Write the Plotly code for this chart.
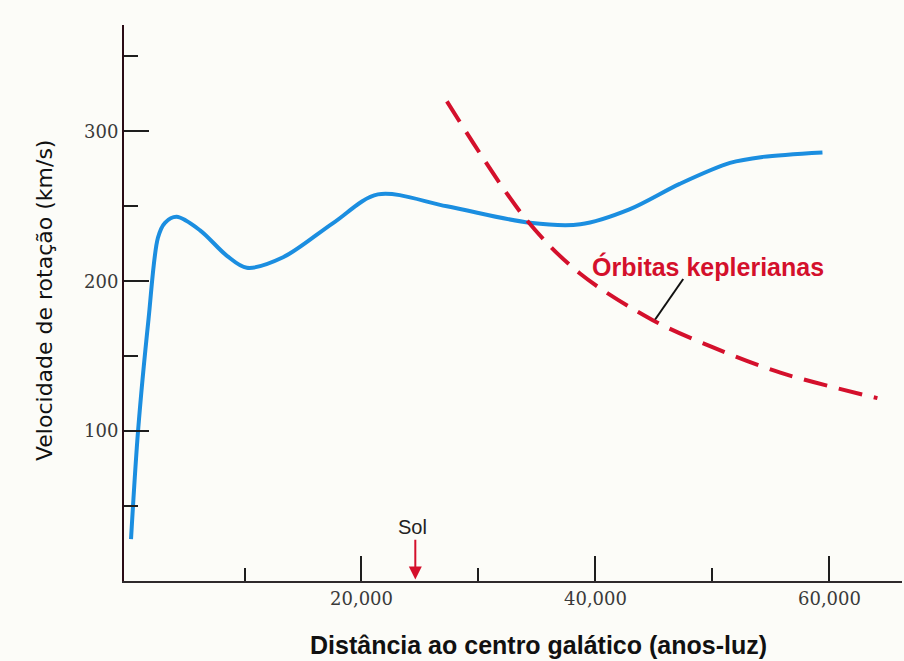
import plotly.graph_objects as go

# Observed rotation curve of the Galaxy (distance in light-years, speed in km/s)
dist_obs = [300, 900, 1800, 2600, 3200, 4200, 6200, 8500, 10200, 13300,
            17600, 21400, 27300, 34400, 38700, 42900, 47200, 51500, 54300, 59400]
vel_obs = [28, 100, 175, 229, 239, 243, 234, 217, 209, 216,
           239, 258, 250, 239, 238, 248, 265, 279, 283, 286]

# Keplerian (point-mass) expectation
dist_kep = [27300, 34100, 38700, 44900, 50000, 55800, 64100]
vel_kep = [320, 241, 205, 174, 156, 139, 122]

sun_dist = 24600

y_major = [100, 200, 300]
y_minor = [50, 150, 250, 350]
x_major = [20000, 40000, 60000]
x_major_text = ["20,000", "40,000", "60,000"]
x_minor = [10000, 30000, 50000]

BLUE = "#1b8ee0"
RED = "#d4102c"
BG = "#fcfcf8"

fig = go.Figure()
fig.add_trace(go.Scatter(
    x=dist_obs, y=vel_obs, mode="lines",
    line=dict(color=BLUE, width=4, shape="spline", smoothing=0.9),
    hoverinfo="skip"))
fig.add_trace(go.Scatter(
    x=dist_kep, y=vel_kep, mode="lines",
    line=dict(color=RED, width=4, shape="spline", smoothing=0.9, dash="24px,12px"),
    hoverinfo="skip"))

# pointer from the label to the Keplerian curve
fig.add_trace(go.Scatter(
    x=[47500, 45100], y=[201.5, 174.5], mode="lines",
    line=dict(color="#111111", width=2), hoverinfo="skip"))

fig.add_annotation(
    x=49600, y=210, xref="x", yref="y", text="<b>Órbitas keplerianas</b>",
    showarrow=False, font=dict(family="Liberation Sans", size=25, color=RED),
    xanchor="center", yanchor="middle")

# Sun position marker
fig.add_annotation(
    x=sun_dist, y=1, ax=sun_dist, ay=28.5, xref="x", yref="y",
    axref="x", ayref="y", text="", showarrow=True,
    arrowhead=2, arrowsize=1.3, arrowwidth=2, arrowcolor=RED)
fig.add_annotation(
    x=sun_dist - 200, y=36, xref="x", yref="y", text="Sol",
    showarrow=False, font=dict(family="Liberation Sans", size=20, color="#222222"),
    xanchor="center", yanchor="middle")

# axis titles
fig.add_annotation(
    x=0.533, y=-0.116, xref="paper", yref="paper",
    text="<b>Distância ao centro galático (anos-luz)</b>",
    showarrow=False, font=dict(family="Liberation Sans", size=25, color="#111111"),
    xanchor="center", yanchor="middle")
fig.add_annotation(
    x=-0.1015, y=0.5036, xref="paper", yref="paper",
    text="Velocidade de rotação (km/s)", textangle=-90,
    showarrow=False, font=dict(family="DejaVu Sans", size=22, color="#111111"),
    xanchor="center", yanchor="middle")

tick_font = dict(family="DejaVu Serif", size=18, color="#3a3a3a")

fig.update_layout(
    width=904, height=661,
    margin=dict(l=124, r=2, t=25, b=80),
    paper_bgcolor=BG, plot_bgcolor=BG,
    showlegend=False,
    xaxis=dict(
        range=[-300, 66200], showgrid=False, zeroline=False,
        showline=True, linecolor="#2e2a2c", linewidth=2,
        ticks="inside", ticklen=25, tickwidth=2, tickcolor="#1e1e1e",
        tickmode="array", tickvals=x_major, ticktext=x_major_text,
        tickfont=tick_font,
        minor=dict(tickmode="array", tickvals=x_minor, ticks="inside",
                   ticklen=13, tickwidth=2, tickcolor="#1e1e1e", showgrid=False),
    ),
    yaxis=dict(
        range=[0, 371], showgrid=False, zeroline=False,
        showline=True, linecolor="#2a0c16", linewidth=2,
        ticks="inside", ticklen=25, tickwidth=2, tickcolor="#1e1e1e",
        tickmode="array", tickvals=y_major,
        tickfont=tick_font,
        minor=dict(tickmode="array", tickvals=y_minor, ticks="inside",
                   ticklen=14, tickwidth=2, tickcolor="#1e1e1e", showgrid=False),
    ),
)

fig.write_html("out.html")
